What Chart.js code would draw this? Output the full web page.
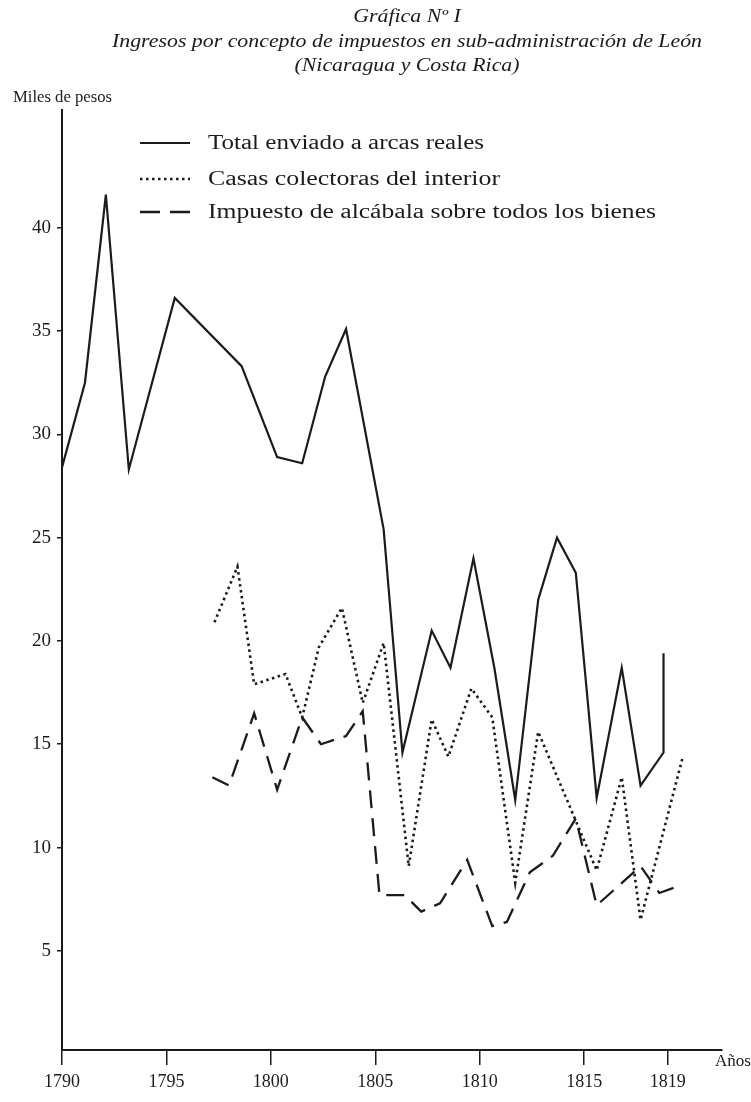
<!DOCTYPE html>
<html>
<head>
<meta charset="utf-8">
<script src="https://cdn.jsdelivr.net/npm/chart.js@4.4.1/dist/chart.umd.min.js"></script>
<style>
  html, body { margin: 0; padding: 0; background: #fff; }
</style>
</head>
<body>
<canvas id="grafica" width="751" height="1102"></canvas>
<script>
// valores (miles de pesos)
const totalYears = [1790, 1791.1, 1792.1, 1793.2, 1795.4, 1798.6, 1800.3, 1801.5, 1802.6, 1803.6, 1805.4, 1806.3, 1807.7, 1808.6, 1809.7, 1810.7, 1811.7, 1812.8, 1813.7, 1814.6, 1815.6, 1816.8, 1817.7, 1818.8, 1818.8];
const totalValues = [28.4, 32.5, 41.6, 28.3, 36.6, 33.3, 28.9, 28.6, 32.8, 35.1, 25.4, 14.6, 20.5, 18.7, 24.0, 18.7, 12.3, 22.0, 25.0, 23.3, 12.4, 18.7, 13.0, 14.6, 19.4];

const casasYears = [1797.3, 1798.4, 1799.2, 1800.7, 1801.5, 1802.3, 1803.4, 1804.4, 1805.4, 1806.6, 1807.7, 1808.5, 1809.6, 1810.6, 1811.7, 1812.8, 1815.6, 1816.8, 1817.7, 1819.7];
const casasValues = [20.9, 23.6, 17.9, 18.4, 16.3, 19.7, 21.6, 17.0, 19.9, 9.1, 16.2, 14.4, 17.7, 16.3, 8.3, 15.6, 8.9, 13.4, 6.5, 14.3];

const alcabalaYears = [1797.2, 1798.0, 1799.2, 1800.3, 1801.5, 1802.4, 1803.6, 1804.4, 1805.2, 1806.4, 1807.2, 1808.1, 1809.4, 1810.6, 1811.3, 1812.4, 1813.5, 1814.6, 1815.6, 1817.7, 1818.6, 1819.7];
const alcabalaValues = [13.4, 13.0, 16.5, 12.8, 16.3, 15.0, 15.4, 16.6, 7.7, 7.7, 6.9, 7.3, 9.4, 6.2, 6.4, 8.8, 9.6, 11.4, 7.2, 9.1, 7.8, 8.2];

const xTicks = [1790, 1795, 1800, 1805, 1810, 1815, 1819];
const yTicks = [5, 10, 15, 20, 25, 30, 35, 40];

const titulo = ["Gráfica Nº I", "Ingresos por concepto de impuestos en sub-administración de León", "(Nicaragua y Costa Rica)"];
const leyenda = ["Total enviado a arcas reales", "Casas colectoras del interior", "Impuesto de alcábala sobre todos los bienes"];

const serif = "'Liberation Serif', 'DejaVu Serif', serif";
const tinta = "#1b1b1b";

function puntos(xs, ys) {
  return xs.map((x, i) => ({ x: x, y: ys[i] }));
}

// escribe un texto ajustado a un ancho dado
function escribe(ctx, texto, x, y, ancho) {
  const w = ctx.measureText(texto).width;
  ctx.save();
  ctx.translate(x, y);
  ctx.scale(ancho / w, 1);
  ctx.fillText(texto, 0, 0);
  ctx.restore();
}

const textos = {
  id: "textos",
  afterDraw(chart) {
    const ctx = chart.ctx;
    ctx.save();
    ctx.fillStyle = tinta;
    ctx.strokeStyle = tinta;
    ctx.textAlign = "left";
    ctx.textBaseline = "alphabetic";

    // título: las tres líneas con la misma escala, centradas
    ctx.font = "italic 18px " + serif;
    const escala = 590 / ctx.measureText(titulo[1]).width;
    [22, 47, 71].forEach((y, i) => {
      const ancho = ctx.measureText(titulo[i]).width * escala;
      escribe(ctx, titulo[i], 407 - ancho / 2, y, ancho);
    });

    // rótulos de ejes
    ctx.font = "16px " + serif;
    escribe(ctx, "Miles de pesos", 13, 102, 99);
    escribe(ctx, "Años", 715, 1066, 36);

    // leyenda
    const filas = [143, 179, 212];
    ctx.font = "20px " + serif;
    escribe(ctx, leyenda[0], 208, filas[0] + 6, 276);
    escribe(ctx, leyenda[1], 208, filas[1] + 6, 292);
    escribe(ctx, leyenda[2], 208, filas[2] + 6, 448);

    const estilos = chart.data.datasets.map((d) => d.borderDash);
    const anchos = chart.data.datasets.map((d) => d.borderWidth);
    filas.forEach((y, i) => {
      ctx.beginPath();
      ctx.lineWidth = anchos[i];
      ctx.setLineDash(i === 2 ? [20, 10] : estilos[i]);
      ctx.moveTo(140, y);
      ctx.lineTo(190, y);
      ctx.stroke();
    });
    ctx.restore();
  },
};

new Chart(document.getElementById("grafica"), {
  type: "line",
  data: {
    datasets: [
      {
        label: leyenda[0],
        data: puntos(totalYears, totalValues),
        borderColor: tinta,
        borderWidth: 2.2,
        borderDash: [],
        pointRadius: 0,
        tension: 0,
      },
      {
        label: leyenda[1],
        data: puntos(casasYears, casasValues),
        borderColor: tinta,
        borderWidth: 2.6,
        borderDash: [2.5, 3.5],
        pointRadius: 0,
        tension: 0,
      },
      {
        label: leyenda[2],
        data: puntos(alcabalaYears, alcabalaValues),
        borderColor: tinta,
        borderWidth: 2.3,
        borderDash: [18, 10],
        pointRadius: 0,
        tension: 0,
      },
    ],
  },
  options: {
    responsive: false,
    animation: false,
    layout: {
      padding: { left: 0, right: 29, top: 110, bottom: 0 },
    },
    scales: {
      x: {
        type: "linear",
        min: 1790,
        max: 1821.6,
        afterBuildTicks: (scale) => {
          scale.ticks = xTicks.map((v) => ({ value: v }));
        },
        afterFit: (scale) => {
          scale.height = 52;
        },
        ticks: {
          color: tinta,
          font: { family: serif, size: 18 },
          padding: 6,
          maxRotation: 0,
          autoSkip: false,
          callback: (v) => String(v),
        },
        grid: {
          drawOnChartArea: false,
          drawTicks: true,
          tickLength: 15,
          color: tinta,
          lineWidth: 1.5,
        },
        border: { display: true, color: tinta, width: 2 },
      },
      y: {
        min: 0.2,
        max: 45.7,
        afterBuildTicks: (scale) => {
          scale.ticks = yTicks.map((v) => ({ value: v }));
        },
        afterFit: (scale) => {
          scale.width = 62;
        },
        ticks: {
          color: tinta,
          font: { family: serif, size: 19 },
          padding: 6,
          callback: (v) => String(v),
        },
        grid: {
          drawOnChartArea: false,
          drawTicks: true,
          tickLength: 5,
          color: tinta,
          lineWidth: 1.5,
        },
        border: { display: true, color: tinta, width: 2 },
      },
    },
    plugins: {
      legend: { display: false },
      title: { display: false },
      tooltip: { enabled: false },
    },
  },
  plugins: [textos],
});
</script>
</body>
</html>
